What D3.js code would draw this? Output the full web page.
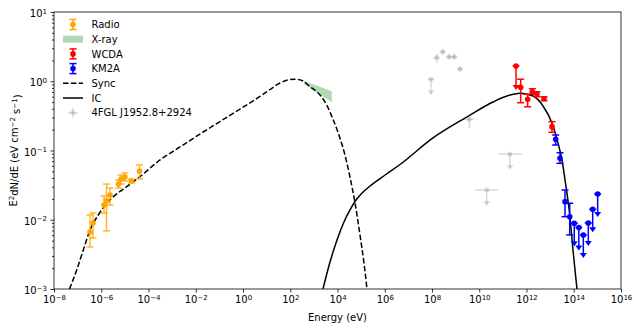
<!DOCTYPE html>
<html>
<head>
<meta charset="utf-8">
<script src="https://cdn.jsdelivr.net/npm/d3@7"></script>
<style>
body { margin: 0; background: #fff; }
text { font-family: "DejaVu Sans", sans-serif; font-size: 10px; }
</style>
</head>
<body>
<div id="chart"></div>
<script>
// radio points (eV, E^2 dN/dE in eV cm^-2 s^-1)
var radioE  = [3.34e-7, 4.48e-7, 1.31e-6, 1.67e-6, 2.34e-6, 5.37e-6, 6.86e-6, 1.01e-5, 1.91e-5, 4.16e-5];
var radioF  = [0.00665, 0.00897, 0.0163, 0.0187, 0.0228, 0.0328, 0.0388, 0.0414, 0.0363, 0.0506];
var radioLo = [0.00404, 0.00545, 0.0125, 0.0069, 0.0163, 0.0287, 0.0328, 0.0363, 0.0340, 0.0388];
var radioHi = [0.0117, 0.0125, 0.0220, 0.0328, 0.0287, 0.0375, 0.0443, 0.0473, 0.0388, 0.0618];

// x-ray band
var xrayE  = [3.8e2, 5.7e3];
var xrayLo = [0.91, 0.497];
var xrayHi = [1.02, 0.72];

// WCDA
var wcdaE  = [5.66e11, 1.12e12, 1.76e12, 2.78e12, 5.51e12, 1.20e13];
var wcdaF  = [0.818, 0.548, 0.706, 0.655, 0.560, 0.221];
var wcdaLo = [0.49, 0.428, 0.649, 0.598, 0.524, 0.183];
var wcdaHi = [1.07, 0.649, 0.78, 0.706, 0.598, 0.261];
var wcdaUlE = [3.60e11];
var wcdaUlF = [1.66];

// KM2A
var km2aE  = [1.72e13, 2.62e13, 4.27e13, 6.75e13];
var km2aF  = [0.145, 0.0771, 0.01824, 0.01107];
var km2aLo = [0.120, 0.0653, 0.01107, 0.00603];
var km2aHi = [0.1675, 0.0929, 0.0269, 0.0173];
var km2aUlE = [1.05e14, 1.64e14, 2.54e14, 4.13e14, 6.34e14, 1.03e15];
var km2aUlF = [0.00889, 0.00773, 0.00603, 0.00898, 0.01416, 0.02356];

// 4FGL J1952.8+2924
var fglE    = [1.58e8, 2.84e8, 5.25e8, 8.79e8, 1.53e9, 3.80e9];
var fglEmin = [1.18e8, 2.12e8, 3.92e8, 6.56e8, 1.14e9, 2.34e9];
var fglEmax = [2.12e8, 3.81e8, 7.03e8, 1.18e9, 2.05e9, 6.17e9];
var fglF    = [2.19, 2.67, 2.26, 2.26, 1.50, 0.282];
var fglLo   = [1.82, 2.39, 2.05, 2.05, 1.38, 0.211];
var fglHi   = [2.47, 2.92, 2.48, 2.48, 1.64, 0.326];
var fglUlE    = [9.08e7, 2.07e10, 2.00e11];
var fglUlEmin = [6.9e7, 6.6e9, 6.46e10];
var fglUlEmax = [1.20e8, 6.46e10, 6.3e11];
var fglUlF    = [1.07, 0.0269, 0.0891];

// model curves
var syncE = [4.53e-8, 9.14e-8, 1.74e-7, 3.34e-7, 7.50e-7, 2.34e-6, 1.19e-5, 4.37e-5, 3.07e-4, 2.15e-3,
             1.51e-2, 0.106, 0.746, 5.25, 13.9, 36.8, 80.4, 159, 314, 686,
             1.82e3, 3.49e3, 6.64e3, 1.28e4, 2.07e4, 3.38e4, 5.51e4, 8.95e4, 1.32e5, 1.77e5];
var syncF = [0.001, 0.00188, 0.00366, 0.00711, 0.01172, 0.01928, 0.0300, 0.0419, 0.0730, 0.1125,
             0.173, 0.262, 0.397, 0.603, 0.760, 0.944, 1.042, 1.072, 1.026, 0.834,
             0.632, 0.454, 0.275, 0.150, 0.0861, 0.0414, 0.0175, 0.00603, 0.00237, 0.001];
var icE = [2.43e3, 4.82e3, 9.53e3, 1.88e4, 3.38e4, 6.07e4, 1.09e5, 2.38e5, 1.03e6, 4.43e6,
           1.10e8, 3.03e9, 3.82e10, 2.00e11, 5.31e11, 1.88e12, 4.99e12, 1.20e13, 2.15e13, 3.18e13,
           4.27e13, 6.93e13, 9.29e13, 1.19e14, 1.37e14];
var icF = [0.001, 0.00245, 0.00511, 0.00929, 0.01384, 0.01928, 0.0243, 0.0307, 0.0443, 0.0628,
           0.152, 0.305, 0.501, 0.632, 0.670, 0.612, 0.440, 0.249, 0.128, 0.0730,
           0.0375, 0.01096, 0.00366, 0.00159, 0.001];

var xTicks = d3.range(-8, 17, 2).map(function (p) { return Math.pow(10, p); });
var yTicks = d3.range(-3, 2).map(function (p) { return Math.pow(10, p); });

var legendItems = ['Radio', 'X-ray', 'WCDA', 'KM2A', 'Sync', 'IC', '4FGL J1952.8+2924'];

var width = 634, height = 329;
var plot = {left: 54, right: 621, top: 12, bottom: 289};

var x = d3.scaleLog().domain([1e-8, 1e16]).range([plot.left, plot.right]);
var y = d3.scaleLog().domain([1e-3, 10]).range([plot.bottom, plot.top]);

var svg = d3.select('#chart').append('svg')
    .attr('width', width)
    .attr('height', height);

svg.append('defs').append('clipPath').attr('id', 'clip')
    .append('rect')
    .attr('x', plot.left).attr('y', plot.top)
    .attr('width', plot.right - plot.left).attr('height', plot.bottom - plot.top);

function expLabel(sel, small) {
    sel.each(function (d) {
        var t = d3.select(this);
        var e = Math.round(Math.log10(d));
        t.text(null);
        t.append('tspan').text('10');
        t.append('tspan').attr('dy', '-0.5em').style('font-size', '7px')
            .text(e < 0 ? '\u2212' + (-e) : '' + e);
    });
}

// axes
var gx = svg.append('g')
    .attr('transform', 'translate(0,' + plot.bottom + ')')
    .call(d3.axisBottom(x).tickValues(xTicks).tickSize(3.5).tickPadding(3.5).tickSizeOuter(0));
gx.selectAll('.tick text').call(expLabel).attr('fill', '#000');

var gy = svg.append('g')
    .attr('transform', 'translate(' + plot.left + ',0)')
    .call(d3.axisLeft(y).tickValues(yTicks).tickSize(3.5).tickPadding(3.5).tickSizeOuter(0));
gy.selectAll('.tick text').call(expLabel).attr('fill', '#000').attr('dy', '0.45em');

// minor ticks on y
var yMinor = [];
yTicks.slice(0, -1).forEach(function (t) {
    for (var k = 2; k < 10; k++) yMinor.push(t * k);
});
svg.append('g')
    .attr('transform', 'translate(' + plot.left + ',0)')
    .call(d3.axisLeft(y).tickValues(yMinor).tickSize(2).tickFormat('').tickSizeOuter(0))
    .select('.domain').remove();

svg.selectAll('.domain').remove();
svg.selectAll('.tick line').attr('stroke', '#000').attr('stroke-width', 0.8);

// frame
svg.append('rect')
    .attr('x', plot.left).attr('y', plot.top)
    .attr('width', plot.right - plot.left).attr('height', plot.bottom - plot.top)
    .attr('fill', 'none').attr('stroke', '#000').attr('stroke-width', 0.8);

// axis labels
svg.append('text')
    .attr('x', (plot.left + plot.right) / 2).attr('y', 321)
    .attr('text-anchor', 'middle')
    .text('Energy (eV)');

var yl = svg.append('text')
    .attr('transform', 'translate(17,' + ((plot.top + plot.bottom) / 2) + ') rotate(-90)')
    .attr('text-anchor', 'middle');
yl.append('tspan').text('E');
yl.append('tspan').attr('dy', '-0.45em').style('font-size', '7px').text('2');
yl.append('tspan').attr('dy', '0.45em').text('dN/dE (eV cm');
yl.append('tspan').attr('dy', '-0.45em').style('font-size', '7px').text('\u22122');
yl.append('tspan').attr('dy', '0.45em').text(' s');
yl.append('tspan').attr('dy', '-0.45em').style('font-size', '7px').text('\u22121');
yl.append('tspan').attr('dy', '0.45em').text(')');

var g = svg.append('g').attr('clip-path', 'url(#clip)');

// x-ray band
var band = xrayE.map(function (e, i) { return {e: e, lo: xrayLo[i], hi: xrayHi[i]}; });
g.append('path')
    .datum(band)
    .attr('fill', 'green')
    .attr('fill-opacity', 0.3)
    .attr('d', d3.area()
        .x(function (d) { return x(d.e); })
        .y0(function (d) { return y(d.lo); })
        .y1(function (d) { return y(d.hi); }));

// model lines
var line = d3.line()
    .x(function (d) { return x(d[0]); })
    .y(function (d) { return y(d[1]); })
    .curve(d3.curveMonotoneX);

g.append('path')
    .datum(d3.zip(syncE, syncF))
    .attr('fill', 'none')
    .attr('stroke', '#000')
    .attr('stroke-width', 1.5)
    .attr('stroke-dasharray', '5.5,2.4')
    .attr('d', line);

g.append('path')
    .datum(d3.zip(icE, icF))
    .attr('fill', 'none')
    .attr('stroke', '#000')
    .attr('stroke-width', 1.5)
    .attr('d', line);

// error bar helpers
function pointsWithErrors(E, F, lo, hi, color, barOpacity) {
    var grp = g.append('g');
    E.forEach(function (e, i) {
        var cx = x(e), y0 = y(lo[i]), y1 = y(hi[i]);
        grp.append('line').attr('x1', cx).attr('x2', cx).attr('y1', y0).attr('y2', y1)
            .attr('stroke', color).attr('stroke-width', 1.5).attr('stroke-opacity', barOpacity);
        [y0, y1].forEach(function (yy) {
            grp.append('line').attr('x1', cx - 3.5).attr('x2', cx + 3.5).attr('y1', yy).attr('y2', yy)
                .attr('stroke', color).attr('stroke-width', 1.5).attr('stroke-opacity', barOpacity);
        });
        grp.append('circle').attr('cx', cx).attr('cy', y(F[i])).attr('r', 2.8).attr('fill', color);
    });
}

function upperLimits(E, F, color, len) {
    var grp = g.append('g');
    E.forEach(function (e, i) {
        var cx = x(e), cy = y(F[i]);
        grp.append('line').attr('x1', cx).attr('x2', cx).attr('y1', cy).attr('y2', cy + len - 2)
            .attr('stroke', color).attr('stroke-width', 1.5);
        grp.append('line').attr('x1', cx - 3.5).attr('x2', cx + 3.5).attr('y1', cy).attr('y2', cy)
            .attr('stroke', color).attr('stroke-width', 1.5);
        grp.append('path')
            .attr('d', 'M' + (cx - 3.5) + ',' + (cy + len - 5) + 'L' + (cx + 3.5) + ',' + (cy + len - 5) +
                'L' + cx + ',' + (cy + len) + 'Z')
            .attr('fill', color);
        grp.append('circle').attr('cx', cx).attr('cy', cy).attr('r', 2.8).attr('fill', color);
    });
}

// 4FGL (light gray)
var fg = g.append('g');
var gA = 0.28;
fglE.forEach(function (e, i) {
    var cx = x(e), cy = y(fglF[i]);
    fg.append('line').attr('x1', x(fglEmin[i])).attr('x2', x(fglEmax[i])).attr('y1', cy).attr('y2', cy)
        .attr('stroke', 'gray').attr('stroke-opacity', gA).attr('stroke-width', 1.5);
    fg.append('line').attr('x1', cx).attr('x2', cx).attr('y1', y(fglLo[i])).attr('y2', y(fglHi[i]))
        .attr('stroke', 'gray').attr('stroke-opacity', gA).attr('stroke-width', 1.5);
    fg.append('circle').attr('cx', cx).attr('cy', cy).attr('r', 2.5)
        .attr('fill', 'gray').attr('fill-opacity', gA);
});
fglUlE.forEach(function (e, i) {
    var cx = x(e), cy = y(fglUlF[i]), len = 16;
    fg.append('line').attr('x1', x(fglUlEmin[i])).attr('x2', x(fglUlEmax[i])).attr('y1', cy).attr('y2', cy)
        .attr('stroke', 'gray').attr('stroke-opacity', gA).attr('stroke-width', 1.5);
    fg.append('line').attr('x1', cx).attr('x2', cx).attr('y1', cy).attr('y2', cy + len - 2)
        .attr('stroke', 'gray').attr('stroke-opacity', gA).attr('stroke-width', 1.5);
    fg.append('path')
        .attr('d', 'M' + (cx - 3.5) + ',' + (cy + len - 5) + 'L' + (cx + 3.5) + ',' + (cy + len - 5) +
            'L' + cx + ',' + (cy + len) + 'Z')
        .attr('fill', 'gray').attr('fill-opacity', gA);
    fg.append('circle').attr('cx', cx).attr('cy', cy).attr('r', 2.5)
        .attr('fill', 'gray').attr('fill-opacity', gA);
});

pointsWithErrors(radioE, radioF, radioLo, radioHi, 'orange', 0.8);
upperLimits(wcdaUlE, wcdaUlF, 'red', 24);
pointsWithErrors(wcdaE, wcdaF, wcdaLo, wcdaHi, 'red', 1);
upperLimits(km2aUlE, km2aUlF, 'blue', 23);
pointsWithErrors(km2aE, km2aF, km2aLo, km2aHi, 'blue', 1);

// legend
var leg = svg.append('g');
var legX = 73, legY0 = 24.5, legDy = 14.7;
legendItems.forEach(function (name, i) {
    var ly = legY0 + i * legDy;
    var item = leg.append('g');
    if (i === 0 || i === 2 || i === 3) {
        var c = ['orange', null, 'red', 'blue'][i];
        item.append('line').attr('x1', legX).attr('x2', legX).attr('y1', ly - 5).attr('y2', ly + 5)
            .attr('stroke', c).attr('stroke-width', 1.5);
        [ly - 5, ly + 5].forEach(function (yy) {
            item.append('line').attr('x1', legX - 3.5).attr('x2', legX + 3.5).attr('y1', yy).attr('y2', yy)
                .attr('stroke', c).attr('stroke-width', 1.5);
        });
        item.append('circle').attr('cx', legX).attr('cy', ly).attr('r', 2.8).attr('fill', c);
    } else if (i === 1) {
        item.append('rect').attr('x', legX - 10).attr('y', ly - 3.5).attr('width', 20).attr('height', 7)
            .attr('fill', 'green').attr('fill-opacity', 0.3);
    } else if (i === 4 || i === 5) {
        item.append('line').attr('x1', legX - 10).attr('x2', legX + 10).attr('y1', ly).attr('y2', ly)
            .attr('stroke', '#000').attr('stroke-width', 1.5)
            .attr('stroke-dasharray', i === 4 ? '5.5,2.4' : null);
    } else {
        item.append('line').attr('x1', legX - 5).attr('x2', legX + 5).attr('y1', ly).attr('y2', ly)
            .attr('stroke', 'gray').attr('stroke-opacity', gA).attr('stroke-width', 1.5);
        item.append('line').attr('x1', legX).attr('x2', legX).attr('y1', ly - 5).attr('y2', ly + 5)
            .attr('stroke', 'gray').attr('stroke-opacity', gA).attr('stroke-width', 1.5);
        item.append('circle').attr('cx', legX).attr('cy', ly).attr('r', 2.5)
            .attr('fill', 'gray').attr('fill-opacity', gA);
    }
    item.append('text').attr('x', 91.5).attr('y', ly + 3.6).text(name);
});
</script>
</body>
</html>
